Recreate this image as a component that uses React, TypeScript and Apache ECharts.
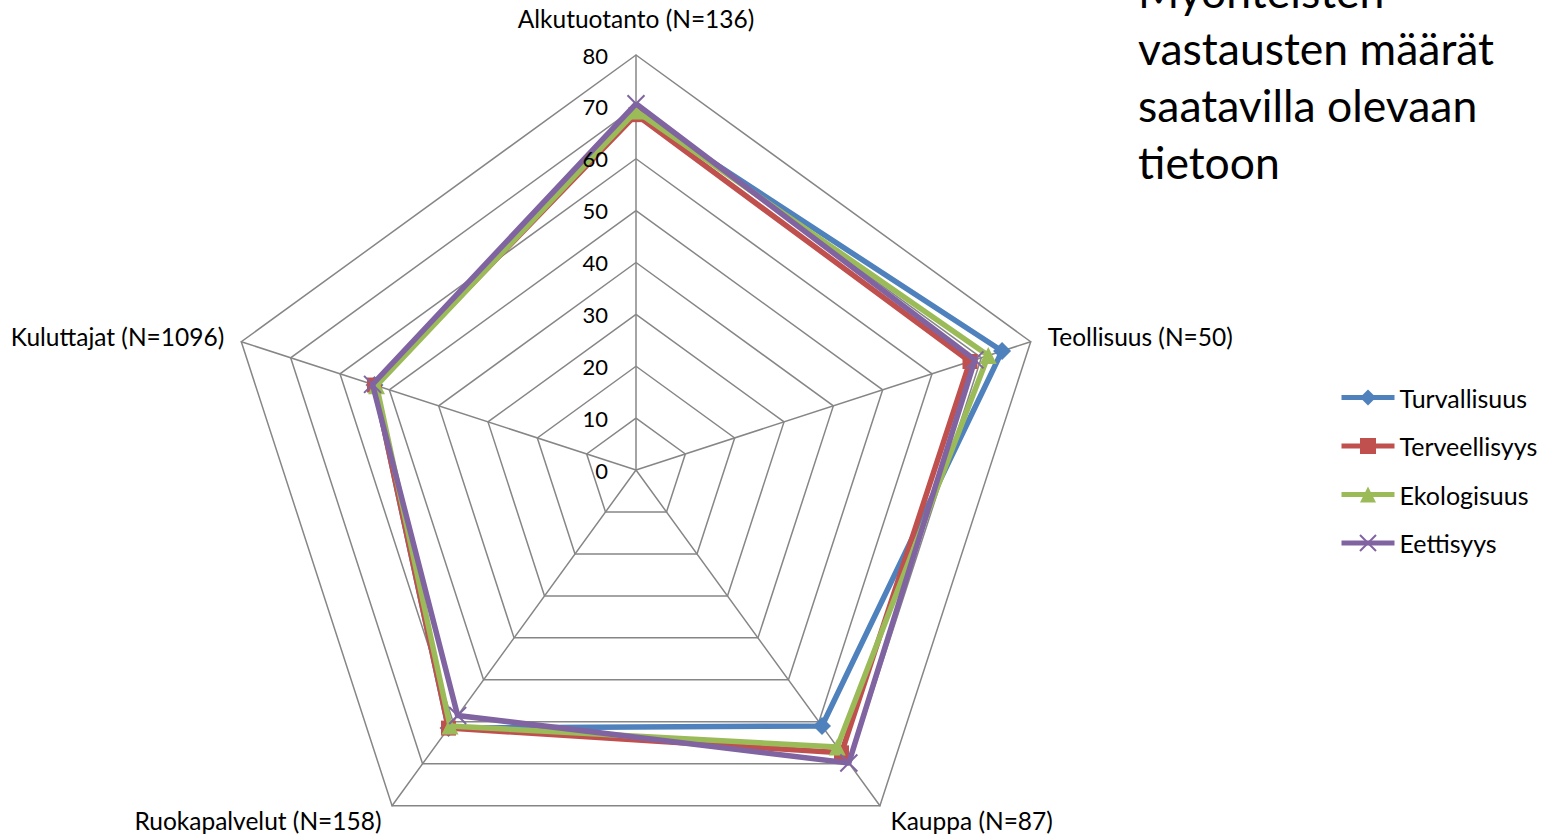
import React, { useEffect, useRef } from "react";
import * as echarts from "echarts";

// Indicator order as ECharts lays them out (counter-clockwise from the top)
const categories = [
  "Alkutuotanto (N=136)",
  "Kuluttajat (N=1096)",
  "Ruokapalvelut (N=158)",
  "Kauppa (N=87)",
  "Teollisuus (N=50)",
];
const seriesNames = ["Turvallisuus", "Terveellisyys", "Ekologisuus", "Eettisyys"];
const turvallisuus = [69, 53, 61.5, 61, 74.2];
const terveellisyys = [68.5, 53, 61.5, 67.4, 67.7];
const ekologisuus = [69.2, 52.6, 61, 66, 71.4];
const eettisyys = [70.6, 53.4, 58.5, 69.8, 68.7];
const tickMax = 80;
const tickStep = 10;
const titleText = "Myönteisten\nvastausten määrät\nsaatavilla olevaan\ntietoon";

const colors = ["#4F81BD", "#C0504D", "#9BBB59", "#8064A2"];
const X_PATH = "path://M0,0L10,10M10,0L0,10";
const symbols = ["diamond", "rect", "triangle", X_PATH];
const symbolSizes = [18, 15, 17, 17];
const FONT = "Lato, 'Open Sans', sans-serif";

export default function App() {
  const ref = useRef<HTMLDivElement>(null);
  useEffect(() => {
    if (!ref.current) return;
    const chart = echarts.init(ref.current, null, { renderer: "svg" });
    const values = [turvallisuus, terveellisyys, ekologisuus, eettisyys];
    const radarSeries = seriesNames.map((name, i) => ({
      type: "radar",
      name,
      symbol: symbols[i],
      symbolSize: symbolSizes[i],
      z: 10 + i,
      lineStyle: { color: colors[i], width: 5.5 },
      itemStyle: {
        color: colors[i],
        borderColor: colors[i],
        borderWidth: i === 3 ? 2 : 0,
      },
      data: [{ value: values[i], name }],
    }));
    const legendSeries = seriesNames.map((name, i) => ({
      type: "line",
      name,
      xAxisIndex: 0,
      yAxisIndex: 0,
      symbol: symbols[i],
      lineStyle: { color: colors[i], width: 5 },
      itemStyle: {
        color: colors[i],
        borderColor: colors[i],
        borderWidth: i === 3 ? 2 : 0,
      },
      data: [],
    }));
    chart.setOption({
      animation: false,
      backgroundColor: "#ffffff",
      textStyle: { fontFamily: FONT },
      grid: { left: -300, top: -300, width: 10, height: 10, show: false },
      xAxis: { type: "category", show: false, data: [] },
      yAxis: { type: "value", show: false },
      legend: {
        orient: "vertical",
        left: 1334,
        top: 380,
        itemWidth: 53,
        itemHeight: 20,
        itemGap: 23.5,
        textStyle: { fontSize: 25, color: "#000", fontFamily: FONT },
        data: seriesNames.map((name) => ({
          name,
          lineStyle: { width: 5 },
        })),
      },
      graphic: [
        {
          type: "text",
          left: 1138,
          top: -38,
          style: {
            text: titleText,
            font: `44.5px ${FONT}`,
            lineHeight: 57,
            fill: "#000",
          },
        },
      ],
      radar: {
        center: [636, 470],
        radius: 415,
        startAngle: 90,
        splitNumber: 8,
        shape: "polygon",
        indicator: categories.map((name) => ({ name, min: 0, max: tickMax })),
        axisName: {
          color: "#000",
          fontSize: 24.5,
          fontFamily: FONT,
          formatter: (name: string) =>
            name === categories[0] ? `{top|${name}}` : name,
          rich: {
            top: {
              fontSize: 24.5,
              fontFamily: FONT,
              color: "#000",
              padding: [0, 0, 6, 0],
            },
          },
        },
        nameGap: 18,
        axisLine: { lineStyle: { color: "#868686", width: 1.5 } },
        splitLine: { lineStyle: { color: "#868686", width: 1.5 } },
        splitArea: { show: false },
        axisTick: { show: false },
        axisLabel: { show: false },
      },
      polar: { center: [636, 470], radius: 415 },
      angleAxis: { show: false, startAngle: 90, min: 0, max: 360 },
      radiusAxis: {
        min: 0,
        max: tickMax,
        interval: tickStep,
        z: 30,
        axisLine: { show: false },
        axisTick: { show: false },
        splitLine: { show: false },
        axisLabel: { fontSize: 22, color: "#000", fontFamily: FONT, margin: 28 },
      },
      series: [...legendSeries, ...radarSeries],
    });
    return () => chart.dispose();
  }, []);
  return (
    <div
      ref={ref}
      style={{ position: "fixed", left: 0, top: 0, width: 1547, height: 837 }}
    />
  );
}
